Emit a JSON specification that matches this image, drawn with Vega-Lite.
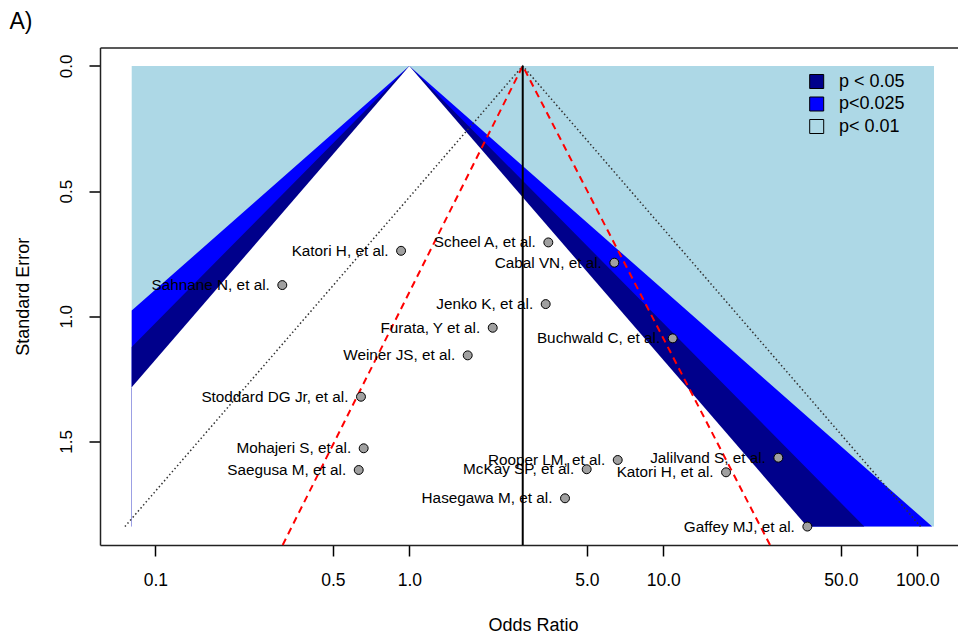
{
  "$schema": "https://vega.github.io/schema/vega-lite/v6.json",
  "width": 858,
  "height": 497.5,
  "autosize": {"type": "none"},
  "padding": {"left": 100, "top": 47.5, "right": 0, "bottom": 92},
  "background": "white",
  "config": {"view": {"stroke": null}, "font": "Liberation Sans"},
  "datasets": {
    "studies": [
      {"study": "Katori H, et al.", "or": 0.928, "se": 0.7385},
      {"study": "Scheel A, et al.", "or": 3.526, "se": 0.705},
      {"study": "Cabal VN, et al.", "or": 6.414, "se": 0.786},
      {"study": "Sahnane N, et al.", "or": 0.3162, "se": 0.8754},
      {"study": "Jenko K, et al.", "or": 3.443, "se": 0.9513},
      {"study": "Furata, Y et al.", "or": 2.13, "se": 1.0459},
      {"study": "Buchwald C, et al.", "or": 10.89, "se": 1.0882},
      {"study": "Weiner JS, et al.", "or": 1.698, "se": 1.1561},
      {"study": "Stoddard DG Jr, et al.", "or": 0.6452, "se": 1.3214},
      {"study": "Mohajeri S, et al.", "or": 0.6612, "se": 1.5273},
      {"study": "Saegusa M, et al.", "or": 0.6322, "se": 1.614},
      {"study": "Rooper LM, et al.", "or": 6.615, "se": 1.574},
      {"study": "McKay SP, et al.", "or": 4.993, "se": 1.611},
      {"study": "Jalilvand S, et al.", "or": 28.37, "se": 1.5649},
      {"study": "Katori H, et al.", "or": 17.66, "se": 1.6232},
      {"study": "Hasegawa M, et al.", "or": 4.102, "se": 1.727},
      {"study": "Gaffey MJ, et al.", "or": 36.9, "se": 1.84}
    ],
    "region": [{"band": "p< 0.01", "or": 0.08074, "or2": 116.35, "se": 0, "se2": 1.84}],
    "contours": [
      {"band": "p<0.025", "se": 0, "lo": 1, "hi": 1},
      {"band": "p<0.025", "se": 0.977, "lo": 0.08074, "hi": 12.385},
      {"band": "p<0.025", "se": 1.84, "lo": 0.08074, "hi": 114.38},
      {"band": "p < 0.05", "se": 0, "lo": 1, "hi": 1},
      {"band": "p < 0.05", "se": 1.1227, "lo": 0.08074, "hi": 12.385},
      {"band": "p < 0.05", "se": 1.84, "lo": 0.08074, "hi": 61.83},
      {"band": "n.s.", "se": 0, "lo": 1, "hi": 1},
      {"band": "n.s.", "se": 1.2839, "lo": 0.08074, "hi": 12.385},
      {"band": "n.s.", "se": 1.85, "lo": 0.08074, "hi": 37.56}
    ],
    "pseudo": [
      {"or": 0.0759, "se": 1.84},
      {"or": 2.796, "se": 0},
      {"or": 102.98, "se": 1.84}
    ],
    "redlines": [
      {"or": 0.3173, "se": 1.9136},
      {"or": 2.796, "se": 0},
      {"or": 26.31, "se": 1.9136}
    ],
    "est": [{"or": 2.796, "se": 0, "se2": 1.9136}]
  },
  "resolve": {"axis": {"x": "independent"}},
  "layer": [
    {
      "data": {"name": "region"},
      "mark": {"type": "rect"},
      "encoding": {
        "x": {
          "field": "or", "type": "quantitative",
          "scale": {"type": "log", "domain": [0.06057, 144.6], "nice": false},
          "axis": {
            "orient": "bottom", "values": [0.1, 0.5, 1, 5, 10, 50, 100], "format": ".1f",
            "labelFontSize": 17.5, "labelFont": "Liberation Sans", "labelColor": "black",
            "labelFlush": false, "labelOverlap": false, "labelPadding": 15.5,
            "tickColor": "black", "tickWidth": 1.5, "tickSize": 11,
            "domainColor": "#222", "domainWidth": 1.5, "grid": false,
            "title": "Odds Ratio", "titleFontSize": 18, "titleFontWeight": "normal", "titleFont": "Liberation Sans",
            "titleColor": "black", "titleX": 433, "titleY": 85, "titleBaseline": "alphabetic", "titleAlign": "center"
          }
        },
        "x2": {"field": "or2"},
        "y": {
          "field": "se", "type": "quantitative", "title": "Standard Error",
          "scale": {"domain": [-0.0736, 1.9136], "reverse": true, "zero": false, "nice": false},
          "axis": {
            "values": [0, 0.5, 1, 1.5], "format": ".1f",
            "labelAngle": -90, "labelAlign": "center", "labelBaseline": "alphabetic", "labelPadding": 17.3,
            "labelFontSize": 17, "labelFont": "Liberation Sans", "labelColor": "black",
            "tickColor": "black", "tickWidth": 1.5, "tickSize": 11,
            "domainColor": "#222", "domainWidth": 1.5, "grid": false,
            "titleFontSize": 18, "titleFontWeight": "normal", "titleFont": "Liberation Sans", "titleColor": "black",
            "titleAngle": -90, "titleX": -71.7, "titleY": 248.75, "titleBaseline": "alphabetic", "titleAlign": "center"
          }
        },
        "y2": {"field": "se2"},
        "fill": {
          "field": "band", "type": "nominal",
          "scale": {"domain": ["p < 0.05", "p<0.025", "p< 0.01"], "range": ["#00008B", "#0000FF", "#ADD8E6"]},
          "legend": {
            "orient": "none", "legendX": 707.7, "legendY": 25, "title": null,
            "symbolType": "square", "symbolSize": 196, "symbolStrokeColor": "black", "symbolStrokeWidth": 1,
            "symbolOpacity": 1, "labelFontSize": 18, "labelFont": "Liberation Sans", "labelColor": "black",
            "labelOffset": 13.3, "rowPadding": 4.5, "padding": 0
          }
        }
      }
    },
    {
      "data": {"name": "contours"},
      "transform": [{"filter": "datum.band === 'p<0.025'"}],
      "mark": {"type": "area", "orient": "horizontal", "opacity": 1},
      "encoding": {
        "y": {"field": "se", "type": "quantitative", "title": "Standard Error"},
        "x": {"field": "lo", "type": "quantitative", "axis": null},
        "x2": {"field": "hi"},
        "fill": {"field": "band", "type": "nominal"}
      }
    },
    {
      "data": {"name": "contours"},
      "transform": [{"filter": "datum.band === 'p < 0.05'"}],
      "mark": {"type": "area", "orient": "horizontal", "opacity": 1},
      "encoding": {
        "y": {"field": "se", "type": "quantitative", "title": "Standard Error"},
        "x": {"field": "lo", "type": "quantitative", "axis": null},
        "x2": {"field": "hi"},
        "fill": {"field": "band", "type": "nominal"}
      }
    },
    {
      "data": {"name": "contours"},
      "transform": [{"filter": "datum.band === 'n.s.'"}],
      "mark": {"type": "area", "orient": "horizontal", "opacity": 1, "fill": "white"},
      "encoding": {
        "y": {"field": "se", "type": "quantitative", "title": "Standard Error"},
        "x": {"field": "lo", "type": "quantitative", "axis": null},
        "x2": {"field": "hi"}
      }
    },
    {
      "data": {"name": "pseudo"},
      "mark": {"type": "line", "color": "#333333", "strokeWidth": 1.5, "strokeDash": [1.5, 2.5]},
      "encoding": {
        "x": {"field": "or", "type": "quantitative", "axis": null},
        "y": {"field": "se", "type": "quantitative", "title": "Standard Error"}
      }
    },
    {
      "data": {"name": "redlines"},
      "mark": {"type": "line", "color": "#FF0000", "strokeWidth": 2, "strokeDash": [7, 5]},
      "encoding": {
        "x": {"field": "or", "type": "quantitative", "axis": null},
        "y": {"field": "se", "type": "quantitative", "title": "Standard Error"}
      }
    },
    {
      "data": {"name": "est"},
      "mark": {"type": "rule", "color": "black", "strokeWidth": 2},
      "encoding": {
        "x": {"field": "or", "type": "quantitative",
          "axis": {"orient": "top", "labels": false, "ticks": false, "grid": false, "domainColor": "#222", "domainWidth": 1.5,
            "title": "A)", "titleFontSize": 23, "titleFontWeight": "normal", "titleFont": "Liberation Sans", "titleColor": "black",
            "titleX": -91, "titleY": -19.2, "titleAlign": "left", "titleBaseline": "alphabetic", "titleAnchor": "start"}},
        "y": {"field": "se", "type": "quantitative", "title": "Standard Error"},
        "y2": {"field": "se2"}
      }
    },
    {
      "data": {"name": "studies"},
      "mark": {"type": "circle", "size": 80, "fill": "#a0a0a0", "stroke": "black", "strokeWidth": 1, "opacity": 1},
      "encoding": {
        "x": {"field": "or", "type": "quantitative", "axis": null},
        "y": {"field": "se", "type": "quantitative", "title": "Standard Error"}
      }
    },
    {
      "data": {"name": "studies"},
      "mark": {"type": "text", "align": "right", "baseline": "middle", "dx": -12.5, "fontSize": 15.3, "font": "Liberation Sans", "color": "black"},
      "encoding": {
        "x": {"field": "or", "type": "quantitative", "axis": null},
        "y": {"field": "se", "type": "quantitative", "title": "Standard Error"},
        "text": {"field": "study"}
      }
    }
  ]
}
